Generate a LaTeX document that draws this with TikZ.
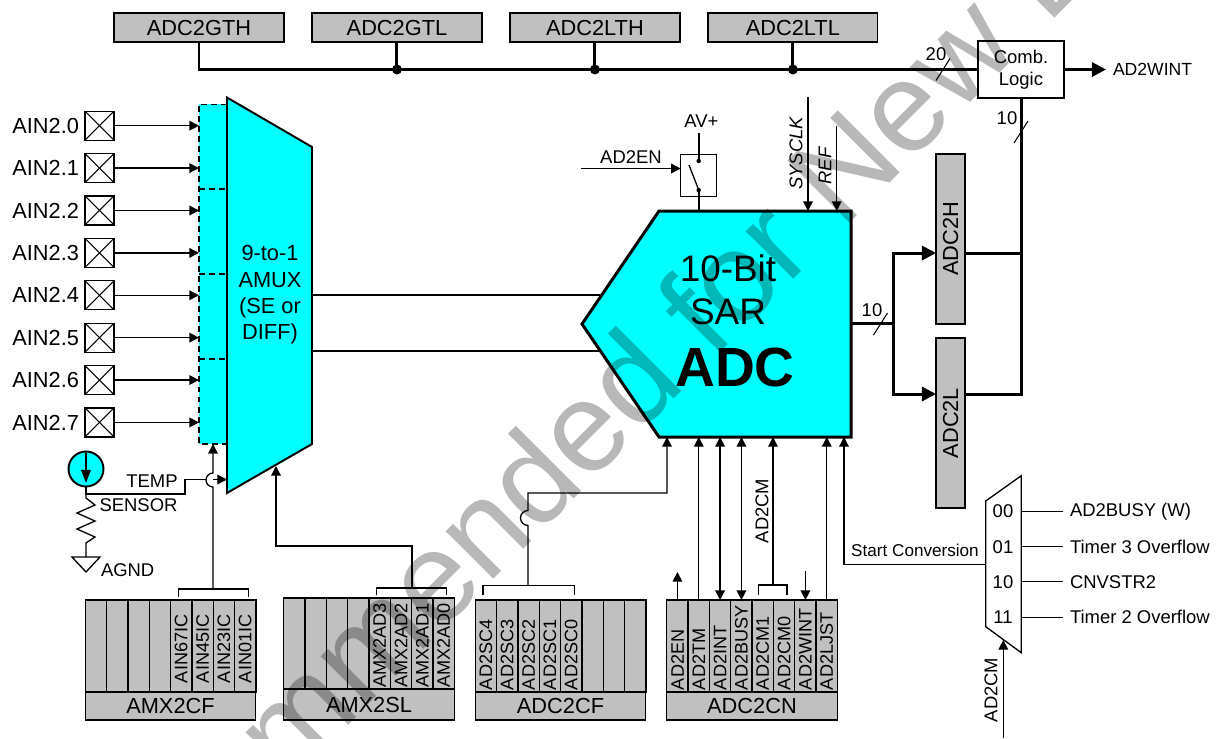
\documentclass[tikz,border=0pt]{standalone}
\usepackage{fontspec}
\usepackage{graphicx}
\setmainfont{Liberation Sans}
\usepackage{xcolor}
\usepackage{tikz}
\usetikzlibrary{
  arrows.meta,
  positioning,
  calc,
}
\definecolor{regfill}{RGB}{192,192,192}
\definecolor{muxfill}{RGB}{0,255,255}
\definecolor{markfill}{RGB}{184,184,184}
\newcommand{\bitname}[1]{\rotatebox{90}{\makebox[1.76cm][l]{#1}}}

\begin{document}
\begin{tikzpicture}[
  x=0.02cm, y=-0.02cm,
  every node/.style={font=\fontsize{10.5}{12.5}\selectfont, inner sep=0pt, outer sep=0pt},
  bigtext/.style={font=\fontsize{12.4}{15}\selectfont},
  wire/.style={line width=0.75pt},
  sig/.style={wire, -{Triangle[length=5.5pt,width=5.5pt]}},
  sigboth/.style={wire, {Triangle[length=5.5pt,width=5.5pt]}-{Triangle[length=5.5pt,width=5.5pt]}},
  bus/.style={line width=1.7pt},
  busarrow/.style={bus, -{Triangle[length=8pt,width=8pt]}},
  tick/.style={line width=0.6pt},
  reg/.style={rectangle, draw, line width=0.7pt, fill=regfill, bigtext},
  topreg/.style={reg, minimum width=3.4cm, minimum height=0.58cm},
  sidereg/.style={reg, minimum width=0.58cm, minimum height=3.4cm},
  regname/.style={reg, minimum width=3.41cm, minimum height=0.56cm},
  regcell/.style={reg, font=\fontsize{10.3}{12}\selectfont, minimum width=0.4267cm, minimum height=1.84cm},
  pad/.style={rectangle, draw, line width=0.7pt, minimum size=0.58cm,
    path picture={
      \draw[line width=0.6pt] (path picture bounding box.north west) -- (path picture bounding box.south east);
      \draw[line width=0.6pt] (path picture bounding box.north east) -- (path picture bounding box.south west);
    }},
  junction/.style={circle, fill, minimum size=0.2cm},
  contact/.style={circle, fill, minimum size=0.09cm},
  muxline/.style={line width=0.6pt, dash pattern=on 3.4pt off 2.3pt},
  muxin/.style={anchor=west, inner xsep=0.14cm},
]
  \useasboundingbox (0,0) rectangle (1221,738);

  % Window compare registers
  \node[topreg] (gth) at (199,27.5) {ADC2GTH};
  \node[topreg, right=0.56cm of gth] (gtl) {ADC2GTL};
  \node[topreg, right=0.56cm of gtl] (lth) {ADC2LTH};
  \node[topreg, right=0.56cm of lth] (ltl) {ADC2LTL};

  \node[rectangle, draw, line width=0.7pt, fill=white, align=center, minimum width=1.72cm, minimum height=1.14cm] (comb) at (1021,69.5) {Comb.\\Logic};
  \node[anchor=west, font=\fontsize{10}{12}\selectfont] (wintout) at (1113,69.5) {AD2WINT};

  \node[junction] (jgtl) at (gtl.south |- comb.west) {};
  \node[junction] (jlth) at (lth.south |- comb.west) {};
  \node[junction] (jltl) at (ltl.south |- comb.west) {};

  \draw[bus] (gth.south) |- (comb.west);
  \draw[bus] (gtl.south) -- (jgtl);
  \draw[bus] (lth.south) -- (jlth);
  \draw[bus] (ltl.south) -- (jltl);
  \draw[busarrow] (comb.east) -- (1106,69.5);

  \coordinate (tickwin) at (943,69.5);
  \draw[tick] ($(tickwin)+(-7,11)$) -- ($(tickwin)+(7,-11)$);
  \node (wincount) at (936,54) {20};

  % Data registers
  \node[sidereg] (adch) at (950.5,239) {\rotatebox{90}{ADC2H}};
  \node[sidereg] (adcl) at (950.5,423) {\rotatebox{90}{ADC2L}};
  \coordinate (adchin) at (936,253);
  \coordinate (adclin) at (936,394);

  \draw[bus] (comb.south) -- (comb.south |- adclin) -- (adclin -| adcl.east);
  \draw[bus] (adchin -| adch.east) -- (adchin -| comb.south);
  \coordinate (tickdata) at (1021,132);
  \draw[tick] ($(tickdata)+(-7,11)$) -- ($(tickdata)+(7,-11)$);
  \node (datacount) at (1007,118) {10};

  % Analog mux
  \node[rectangle, fill=muxfill, minimum width=0.56cm, minimum height=6.8cm] (strip) at (213,274) {};
  \draw[muxline] (strip.north east) -- (strip.north west) -- (strip.south west) -- (strip.south east);
  \draw[muxline] ($(strip.north west)!0.25!(strip.south west)$) -- ($(strip.north east)!0.25!(strip.south east)$);
  \draw[muxline] ($(strip.north west)!0.5!(strip.south west)$) -- ($(strip.north east)!0.5!(strip.south east)$);
  \draw[muxline] ($(strip.north west)!0.75!(strip.south west)$) -- ($(strip.north east)!0.75!(strip.south east)$);

  \coordinate (amuxtl) at (227,97.5);
  \coordinate (amuxtr) at (312,147);
  \coordinate (amuxbr) at (312,444);
  \coordinate (amuxbl) at (227,493);
  \draw[line width=1.1pt, fill=muxfill] (amuxtl) -- (amuxtr) -- (amuxbr) -- (amuxbl) -- cycle;
  \node[bigtext, align=center] (amuxtext) at (270,295) {9-to-1\\AMUX\\(SE or\\DIFF)};

  % Input pads
  \node[pad] (pad0) at (99.5,125.7) {};
  \node[pad, below=0.268cm of pad0] (pad1) {};
  \node[pad, below=0.268cm of pad1] (pad2) {};
  \node[pad, below=0.268cm of pad2] (pad3) {};
  \node[pad, below=0.268cm of pad3] (pad4) {};
  \node[pad, below=0.268cm of pad4] (pad5) {};
  \node[pad, below=0.268cm of pad5] (pad6) {};
  \node[pad, below=0.268cm of pad6] (pad7) {};

  \node[bigtext, left=0.12cm of pad0] (ain0) {AIN2.0};
  \node[bigtext, left=0.12cm of pad1] (ain1) {AIN2.1};
  \node[bigtext, left=0.12cm of pad2] (ain2) {AIN2.2};
  \node[bigtext, left=0.12cm of pad3] (ain3) {AIN2.3};
  \node[bigtext, left=0.12cm of pad4] (ain4) {AIN2.4};
  \node[bigtext, left=0.12cm of pad5] (ain5) {AIN2.5};
  \node[bigtext, left=0.12cm of pad6] (ain6) {AIN2.6};
  \node[bigtext, left=0.12cm of pad7] (ain7) {AIN2.7};

  \draw[sig] (pad0.east) -- (pad0.east -| strip.west);
  \draw[sig] (pad1.east) -- (pad1.east -| strip.west);
  \draw[sig] (pad2.east) -- (pad2.east -| strip.west);
  \draw[sig] (pad3.east) -- (pad3.east -| strip.west);
  \draw[sig] (pad4.east) -- (pad4.east -| strip.west);
  \draw[sig] (pad5.east) -- (pad5.east -| strip.west);
  \draw[sig] (pad6.east) -- (pad6.east -| strip.west);
  \draw[sig] (pad7.east) -- (pad7.east -| strip.west);

  % Temperature sensor
  \node[circle, draw, line width=1.1pt, fill=muxfill, minimum size=0.7cm] (sensor) at (86,469) {};
  \draw[wire, -{Triangle[length=7.5pt,width=5.5pt]}] ([yshift=-1pt]sensor.north) -- ([yshift=2pt]sensor.south);
  \coordinate (sensortap) at (86,494);
  \coordinate (gnd) at (86,557);
  \coordinate (hopwest) at (206,479.5);
  \coordinate (hopeast) at (213,479.5);
  \coordinate (amuxtemp) at (227,479.5);
  \draw[wire] (sensor.south) -- (sensortap) -- (185,494) |- (hopwest);
  \draw[sig] (hopeast) -- (amuxtemp);
  \draw[wire] (sensortap) -- ++(0,4) -- ++(9,7) -- ++(-18,8) -- ++(18,8) -- ++(-18,8) -- ++(18,8) -- ++(-9,6) -- (gnd);
  \draw[wire] (72,557) -- (100,557) -- (86,572) -- cycle;
  \node (temp) at (152,481) {TEMP};
  \node (sense) at (138.5,505) {SENSOR};
  \node[anchor=west] (agnd) at (101,570) {AGND};

  % ADC core
  \coordinate (adctl) at (659,211);
  \coordinate (adctr) at (851,211);
  \coordinate (adcbr) at (851,437);
  \coordinate (adcbl) at (659,437);
  \coordinate (adctip) at (582,324);
  \draw[line width=1.7pt, fill=muxfill] (adctl) -- (adctr) -- (adcbr) -- (adcbl) -- (adctip) -- cycle;
  \node[font=\fontsize{21}{25}\selectfont] (adcbits) at (728,268) {10-Bit};
  \node[font=\fontsize{21}{25}\selectfont] (adcsar) at (728,312) {SAR};
  \node[font=\bfseries\fontsize{31.4}{36}\selectfont] (adcname) at (735,367) {ADC};

  \draw[line width=1.1pt] (312,295) -- ($(adctl)!0.743!(adctip)$);
  \draw[line width=1.1pt] (312,351) -- ($(adcbl)!0.761!(adctip)$);

  % Output of the ADC
  \coordinate (adcout) at (851,323);
  \coordinate (adcsplit) at (893,323);
  \draw[bus] (adcout) -- (adcsplit);
  \draw[busarrow] (adcsplit) |- (adchin);
  \draw[busarrow] (adcsplit) |- (adclin);
  \coordinate (tickout) at (880.5,324);
  \draw[tick] ($(tickout)+(-7,11)$) -- ($(tickout)+(7,-11)$);
  \node (outcount) at (872,310) {10};

  % Enable switch
  \node[rectangle, draw, line width=0.6pt, minimum width=0.71cm, minimum height=0.85cm] (switch) at (698.5,175.5) {};
  \node (avplus) at (701.5,121.5) {AV+};
  \node[contact] (swtop) at (698.7,161) {};
  \node[contact] (swbot) at (698.7,190) {};
  \coordinate (avfoot) at (698.7,133);
  \coordinate (enfoot) at (581,168.5);
  \draw[line width=1.1pt] (avfoot) -- (swtop);
  \draw[line width=1.1pt] (swbot) -- (swbot |- adctl);
  \draw[wire] (689,165) -- (swbot);
  \draw[sig] (enfoot) -- (enfoot -| switch.west);
  \node (enlabel) at (631,157) {AD2EN};

  % Clock and reference
  \coordinate (clkfoot) at (808,97);
  \coordinate (reffoot) at (836.7,125.7);
  \draw[sig] (clkfoot) -- (clkfoot |- adctl);
  \draw[sig] (reffoot) -- (reffoot |- adctl);
  \node[rotate=90, font=\itshape\fontsize{10.5}{12.5}\selectfont] (clklabel) at (796,153.5) {SYSCLK};
  \node[rotate=90, font=\itshape\fontsize{10.5}{12.5}\selectfont] (reflabel) at (825,166) {REF};

  % AMX2CF register
  \node[regname] (amxcf) at (170.5,706) {AMX2CF};
  \node[regcell, anchor=south west] (cf7) at (amxcf.north west) {};
  \node[regcell, right=0pt of cf7] (cf6) {};
  \node[regcell, right=0pt of cf6] (cf5) {};
  \node[regcell, right=0pt of cf5] (cf4) {};
  \node[regcell, right=0pt of cf4] (ic67) {\bitname{\hspace{0.14cm}AIN67IC}};
  \node[regcell, right=0pt of ic67] (ic45) {\bitname{\hspace{0.14cm}AIN45IC}};
  \node[regcell, right=0pt of ic45] (ic23) {\bitname{\hspace{0.14cm}AIN23IC}};
  \node[regcell, right=0pt of ic23] (ic01) {\bitname{\hspace{0.14cm}AIN01IC}};

  % AMX2SL register
  \node[regname, minimum height=0.62cm] (amxsl) at (369,704.5) {AMX2SL};
  \node[regcell, anchor=south west, minimum height=1.82cm] (sl7) at (amxsl.north west) {};
  \node[regcell, minimum height=1.82cm, right=0pt of sl7] (sl6) {};
  \node[regcell, minimum height=1.82cm, right=0pt of sl6] (sl5) {};
  \node[regcell, minimum height=1.82cm, right=0pt of sl5] (sl4) {};
  \node[regcell, minimum height=1.82cm, right=0pt of sl4] (ad3) {\bitname{AMX2AD3}};
  \node[regcell, minimum height=1.82cm, right=0pt of ad3] (ad2) {\bitname{AMX2AD2}};
  \node[regcell, minimum height=1.82cm, right=0pt of ad2] (ad1) {\bitname{AMX2AD1}};
  \node[regcell, minimum height=1.82cm, right=0pt of ad1] (ad0) {\bitname{AMX2AD0}};

  % ADC2CF register
  \node[regname] (adccf) at (560.5,706) {ADC2CF};
  \node[regcell, anchor=south west] (sc4) at (adccf.north west) {\bitname{AD2SC4}};
  \node[regcell, right=0pt of sc4] (sc3) {\bitname{AD2SC3}};
  \node[regcell, right=0pt of sc3] (sc2) {\bitname{AD2SC2}};
  \node[regcell, right=0pt of sc2] (sc1) {\bitname{AD2SC1}};
  \node[regcell, right=0pt of sc1] (sc0) {\bitname{AD2SC0}};
  \node[regcell, right=0pt of sc0] (cf2) {};
  \node[regcell, right=0pt of cf2] (cf1) {};
  \node[regcell, right=0pt of cf1] (cf0) {};

  % ADC2CN register
  \node[regname] (adccn) at (752,706) {ADC2CN};
  \node[regcell, anchor=south west] (en) at (adccn.north west) {\bitname{AD2EN}};
  \node[regcell, right=0pt of en] (tm) {\bitname{AD2TM}};
  \node[regcell, right=0pt of tm] (int) {\bitname{AD2INT}};
  \node[regcell, right=0pt of int] (busy) {\bitname{AD2BUSY}};
  \node[regcell, right=0pt of busy] (cm1) {\bitname{AD2CM1}};
  \node[regcell, right=0pt of cm1] (cm0) {\bitname{AD2CM0}};
  \node[regcell, right=0pt of cm0] (wint) {\bitname{AD2WINT}};
  \node[regcell, right=0pt of wint] (ljst) {\bitname{AD2LJST}};

  % Brackets above the registers
  \coordinate (bracecf) at (213,589);
  \coordinate (bracesl) at (412,588);
  \coordinate (braceadc) at (528,585.7);
  \coordinate (bracecm) at (773,585);
  \draw[wire] ([xshift=-0.06cm,yshift=0.06cm]ic67.north) |- (bracecf) -| ([xshift=0.06cm,yshift=0.06cm]ic01.north);
  \draw[wire] ([xshift=-0.06cm,yshift=0.06cm]ad3.north) |- (bracesl) -| ([xshift=0.06cm,yshift=0.06cm]ad0.north);
  \draw[wire] ([xshift=-0.06cm,yshift=0.1cm]sc4.north) |- (braceadc) -| ([xshift=0.06cm,yshift=0.1cm]sc0.north);
  \draw[wire] ([xshift=-0.08cm,yshift=0.1cm]cm1.north) |- (bracecm) -| ([xshift=0.06cm,yshift=0.1cm]cm0.north);

  % Register connections
  \draw[sig] (bracecf) -- (213,487) arc[start angle=270, end angle=90, radius=0.14cm] -- (bracecf |- strip.south);
  \coordinate (amuxsel) at (276,466);
  \draw[sig] (bracesl) |- (276,546) -- (amuxsel);
  \coordinate (adcclock) at (667,437);
  \draw[sig] (braceadc) -- (528,525.5) arc[start angle=270, end angle=90, radius=0.15cm] -- (528,493) -| (adcclock);

  \draw[sig] (en.north) -- ++(0,-28);
  \draw[sig] (tm.north) -- (tm.north |- adcbr);
  \draw[sigboth] (int.north) -- (int.north |- adcbr);
  \draw[sigboth] (busy.north) -- (busy.north |- adcbr);
  \draw[sig] (bracecm) -- (bracecm |- adcbr);
  \draw[sig] ([yshift=0.58cm]wint.north) -- (wint.north);
  \draw[sig] (ljst.north) -- (ljst.north |- adcbr);
  \node[rotate=90] (cmlabel) at (762,511) {AD2CM};

  % Start of conversion mux
  \coordinate (smuxtl) at (985.7,501);
  \coordinate (smuxtr) at (1021.3,475.7);
  \coordinate (smuxbr) at (1021.3,652.7);
  \coordinate (smuxbl) at (985.7,626.7);
  \draw[line width=0.75pt] (smuxtl) -- (smuxtr) -- (smuxbr) -- (smuxbl) -- cycle;

  \node (sel00) at (1003,511.3) {00};
  \node (sel01) at (1003,546.7) {01};
  \node (sel10) at (1003,581.7) {10};
  \node (sel11) at (1003,617.3) {11};

  \node[muxin] (srcbusy) at (1063,511.3) {AD2BUSY (W)};
  \node[muxin] (srctimerthree) at (1063,546.7) {Timer 3 Overflow};
  \node[muxin] (srccnv) at (1063,581.7) {CNVSTR2};
  \node[muxin] (srctimertwo) at (1063,617.3) {Timer 2 Overflow};

  \draw[wire] (srcbusy.west) -- (srcbusy.west -| smuxtr);
  \draw[wire] (srctimerthree.west) -- (srctimerthree.west -| smuxtr);
  \draw[wire] (srccnv.west) -- (srccnv.west -| smuxtr);
  \draw[wire] (srctimertwo.west) -- (srctimertwo.west -| smuxtr);

  \coordinate (startout) at (985.7,564.3);
  \coordinate (adcstart) at (844,437);
  \draw[sig] (startout) -| (adcstart);
  \node[font=\fontsize{9.75}{12}\selectfont] (startlabel) at (915,550) {Start Conversion};

  \coordinate (cmfoot) at (1003.3,738);
  \coordinate (cmtip) at (1003.3,640);
  \draw[sig] (cmfoot) -- (cmtip);
  \node[rotate=90] (cmlabeltwo) at (991,690) {AD2CM};

  % Watermark
  \begin{scope}[blend mode=multiply]
    \clip (0,0) rectangle (1221,738);
    \node[rotate=45, anchor=base west, text=markfill, font=\fontsize{72.5}{80}\selectfont] (watermark) at (287,786) {mmended for New D};
  \end{scope}

\end{tikzpicture}
\end{document}
